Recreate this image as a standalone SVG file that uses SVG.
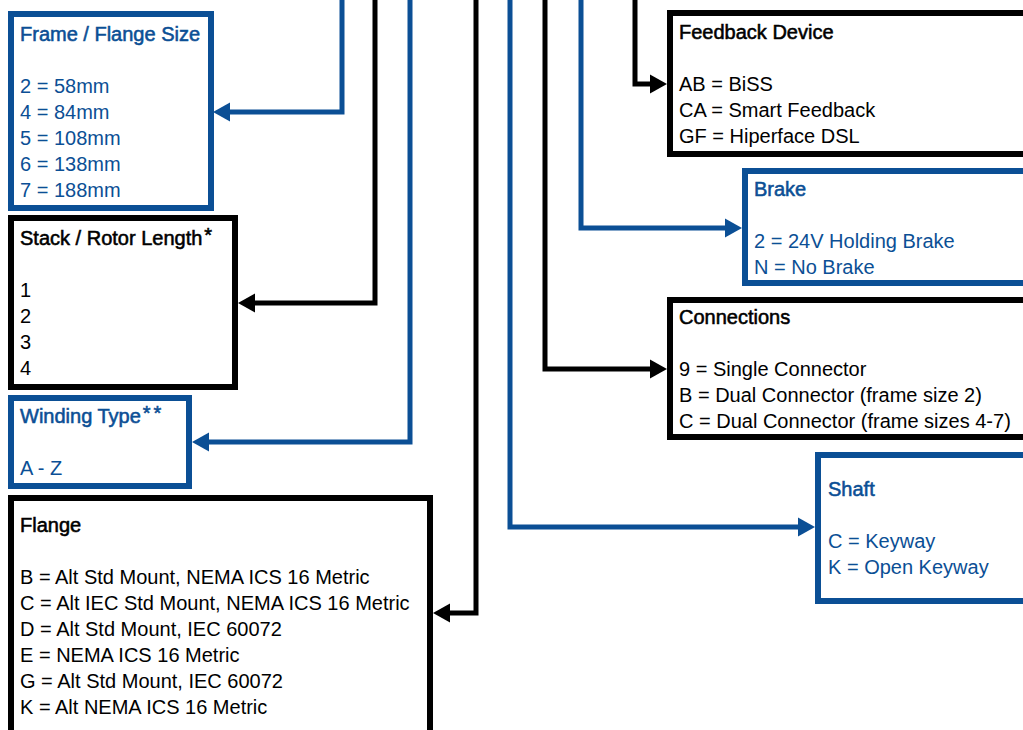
<svg xmlns="http://www.w3.org/2000/svg" width="1023" height="730" viewBox="0 0 1023 730">
<style>
  .box { fill: #ffffff; stroke-width: 6; }
  .bk { stroke: #000000; }
  .bl { stroke: #0b4f95; }
  .con { fill: none; stroke-width: 5; stroke-linejoin: miter; }
  text { font-family: "Liberation Sans", Arial, sans-serif; font-size: 20px; }
  .tb { fill: #000000; }
  .tl { fill: #0b4f95; }
  .ttl { stroke-width: 0.55; }
  .ttl.tb { stroke: #000000; }
  .ttl.tl { stroke: #0b4f95; }
</style>
<defs>
  <marker id="ab" markerUnits="userSpaceOnUse" markerWidth="18" markerHeight="20" refX="0" refY="9.5" orient="auto" overflow="visible">
    <path d="M0,0 L17,9.5 L0,19 Z" fill="#000000"/>
  </marker>
  <marker id="al" markerUnits="userSpaceOnUse" markerWidth="18" markerHeight="20" refX="0" refY="9.5" orient="auto" overflow="visible">
    <path d="M0,0 L17,9.5 L0,19 Z" fill="#0b4f95"/>
  </marker>
</defs>
<rect width="1023" height="730" fill="#ffffff"/>
<g id="connectors">
  <path class="con bl" d="M342,-5 V112 H230" marker-end="url(#al)"/>
  <path class="con bk" d="M375,-5 V303 H255" marker-end="url(#ab)"/>
  <path class="con bl" d="M410,-5 V442 H209" marker-end="url(#al)"/>
  <path class="con bk" d="M476,-5 V613 H450" marker-end="url(#ab)"/>
  <path class="con bl" d="M510,-5 V527 H798" marker-end="url(#al)"/>
  <path class="con bk" d="M545,-5 V369 H650" marker-end="url(#ab)"/>
  <path class="con bl" d="M581,-5 V228 H725" marker-end="url(#al)"/>
  <path class="con bk" d="M635,-5 V84 H650" marker-end="url(#ab)"/>
</g>
<g id="frame">
  <rect class="box bl" x="11" y="14" width="200" height="194"/>
  <text class="tl ttl" x="20" y="41">Frame / Flange Size</text>
  <text class="tl" x="20" y="93">2 = 58mm</text>
  <text class="tl" x="20" y="119">4 = 84mm</text>
  <text class="tl" x="20" y="145">5 = 108mm</text>
  <text class="tl" x="20" y="171">6 = 138mm</text>
  <text class="tl" x="20" y="197">7 = 188mm</text>
</g>
<g id="stack">
  <rect class="box bk" x="11" y="218" width="224" height="169"/>
  <text class="tb ttl" x="20" y="245">Stack / Rotor Length<tspan dx="2" dy="-3">*</tspan></text>
  <text class="tb" x="20" y="297">1</text>
  <text class="tb" x="20" y="323">2</text>
  <text class="tb" x="20" y="349">3</text>
  <text class="tb" x="20" y="375">4</text>
</g>
<g id="winding">
  <rect class="box bl" x="11" y="398" width="178" height="88"/>
  <text class="tl ttl" x="20" y="423">Winding Type<tspan dx="2" dy="-3" letter-spacing="3">**</tspan></text>
  <text class="tl" x="20" y="475">A - Z</text>
</g>
<g id="flange">
  <rect class="box bk" x="11" y="498" width="419" height="250"/>
  <text class="tb ttl" x="20" y="532">Flange</text>
  <text class="tb" x="20" y="584">B = Alt Std Mount, NEMA ICS 16 Metric</text>
  <text class="tb" x="20" y="610">C = Alt IEC Std Mount, NEMA ICS 16 Metric</text>
  <text class="tb" x="20" y="636">D = Alt Std Mount, IEC 60072</text>
  <text class="tb" x="20" y="662">E = NEMA ICS 16 Metric</text>
  <text class="tb" x="20" y="688">G = Alt Std Mount, IEC 60072</text>
  <text class="tb" x="20" y="714">K = Alt NEMA ICS 16 Metric</text>
</g>
<g id="feedback">
  <rect class="box bk" x="670" y="13" width="400" height="141"/>
  <text class="tb ttl" x="679" y="39">Feedback Device</text>
  <text class="tb" x="679" y="91">AB = BiSS</text>
  <text class="tb" x="679" y="117">CA = Smart Feedback</text>
  <text class="tb" x="679" y="143">GF = Hiperface DSL</text>
</g>
<g id="brake">
  <rect class="box bl" x="745" y="171" width="330" height="112"/>
  <text class="tl ttl" x="754" y="196">Brake</text>
  <text class="tl" x="754" y="248">2 = 24V Holding Brake</text>
  <text class="tl" x="754" y="274">N = No Brake</text>
</g>
<g id="connections">
  <rect class="box bk" x="670" y="300" width="400" height="137"/>
  <text class="tb ttl" x="679" y="324">Connections</text>
  <text class="tb" x="679" y="376">9 = Single Connector</text>
  <text class="tb" x="679" y="402">B = Dual Connector (frame size 2)</text>
  <text class="tb" x="679" y="428">C = Dual Connector (frame sizes 4-7)</text>
</g>
<g id="shaft">
  <rect class="box bl" x="818" y="455" width="250" height="146"/>
  <text class="tl ttl" x="828" y="496">Shaft</text>
  <text class="tl" x="828" y="548">C = Keyway</text>
  <text class="tl" x="828" y="574">K = Open Keyway</text>
</g>
</svg>
